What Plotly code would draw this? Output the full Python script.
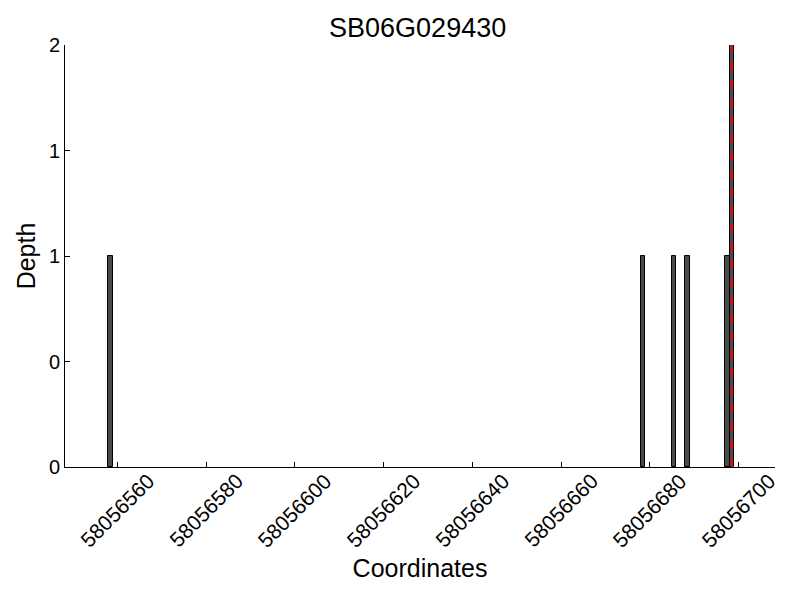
import plotly.graph_objects as go

title = "SB06G029430"
positions = [58056558.5, 58056678.5, 58056685.5, 58056688.5, 58056697.5, 58056698.5]
depths = [1, 1, 1, 1, 1, 2]
marker_pos = 58056698.5
x_ticks = [58056560, 58056580, 58056600, 58056620, 58056640, 58056660, 58056680, 58056700]
y_ticks = [0, 0.5, 1, 1.5, 2]
y_ticklabels = ["0", "0", "1", "1", "2"]

fig = go.Figure()
fig.add_trace(go.Bar(x=positions, y=depths, width=1,
                     marker=dict(color="#4a4a4a", line=dict(color="black", width=1))))
fig.add_shape(type="line", xref="x", yref="y", x0=marker_pos, x1=marker_pos, y0=0, y1=max(depths),
              line=dict(color="red", width=2, dash="dash"))

font = "Liberation Sans, Arial, sans-serif"
# rotated x tick labels centred under their ticks
for v in x_ticks:
    fig.add_annotation(x=v, xref="x", y=-0.104, yref="paper", text=str(v), textangle=-45,
                       showarrow=False, xanchor="center", yanchor="middle",
                       font=dict(family=font, size=21, color="black"))

fig.update_layout(
    width=784, height=584,
    margin=dict(l=57, r=17, t=37, b=125, autoexpand=False),
    plot_bgcolor="white", paper_bgcolor="white",
    showlegend=False,
    title=dict(text=title, x=0.5225, xanchor="center", y=0.966, yanchor="middle",
               font=dict(family=font, size=27, color="black")),
    font=dict(family=font, color="black"),
    bargap=0,
)
fig.update_xaxes(range=[58056548.2, 58056708.2], tickvals=x_ticks, showticklabels=False,
                 ticks="inside", ticklen=5, tickcolor="black", automargin=False,
                 showline=True, linecolor="black", linewidth=1, showgrid=False, zeroline=False,
                 title=dict(text="Coordinates", font=dict(size=25), standoff=92))
fig.update_yaxes(range=[0, 2], tickvals=y_ticks, ticktext=y_ticklabels, automargin=False,
                 ticks="inside", ticklen=5, tickcolor="black",
                 showline=True, linecolor="black", linewidth=1, showgrid=False, zeroline=False,
                 tickfont=dict(size=20), title=dict(text="Depth", font=dict(size=25), standoff=6))

fig.write_html("out.html")
